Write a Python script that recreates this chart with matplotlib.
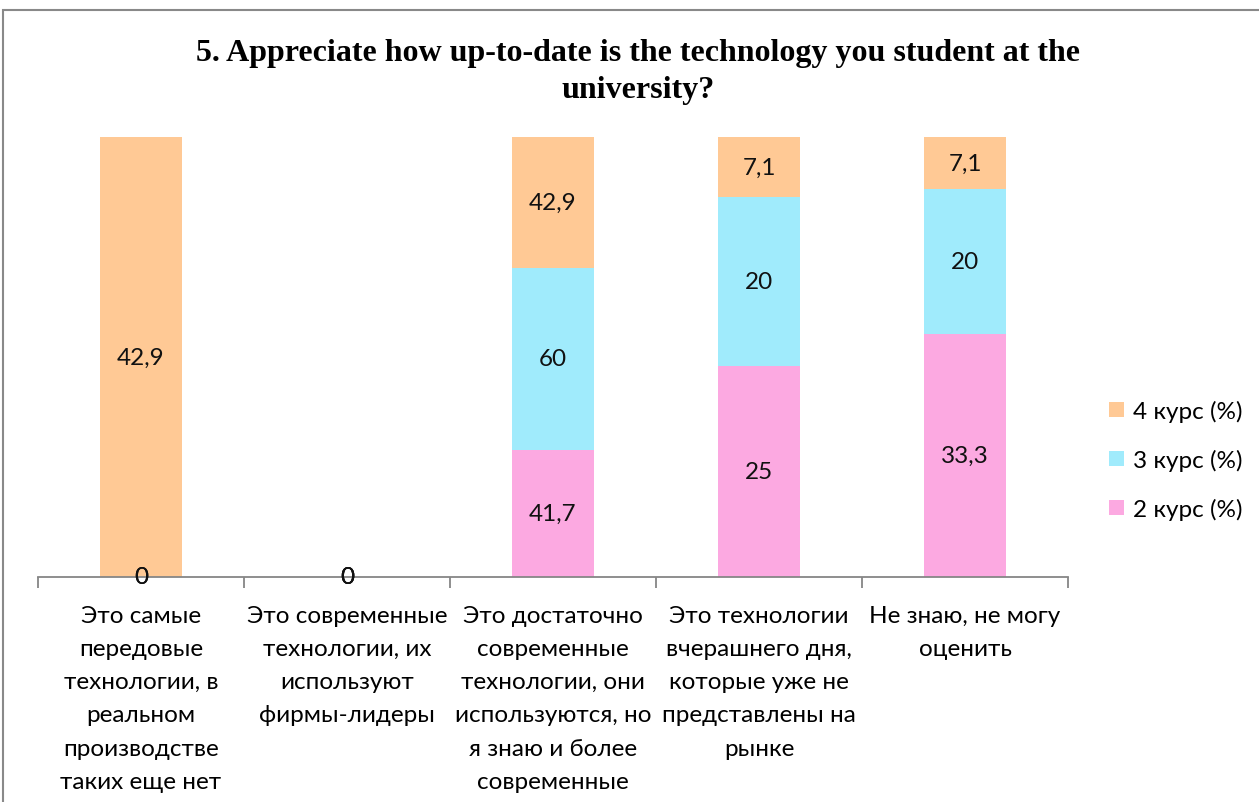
import numpy as np
import matplotlib.pyplot as plt
from matplotlib.patches import Rectangle

# data (100% stacked columns, labels show raw values)
categories = [
    "Это самые\nпередовые\nтехнологии, в\nреальном\nпроизводстве\nтаких еще нет",
    "Это современные\nтехнологии, их\nиспользуют\nфирмы-лидеры",
    "Это достаточно\nсовременные\nтехнологии, они\nиспользуются, но\nя знаю и более\nсовременные",
    "Это технологии\nвчерашнего дня,\nкоторые уже не\nпредставлены на\nрынке",
    "Не знаю, не могу\nоценить",
]
kurs2 = [0, 0, 41.7, 25, 33.3]
kurs3 = [0, 0, 60, 20, 20]
kurs4 = [42.9, 0, 42.9, 7.1, 7.1]

series = [("2 курс (%)", kurs2, "#FCA9E1"),
          ("3 курс (%)", kurs3, "#A0EBFC"),
          ("4 курс (%)", kurs4, "#FFC995")]

TEXT_FONT = "Lato"
FS = 17.5

def fmt(v):
    return f"{v:g}".replace(".", ",")

fig = plt.figure(figsize=(12.59, 8.03), dpi=100)
W, H = 1259, 803
ax = fig.add_axes([38 / W, 1 - 578 / H, 1030 / W, 440 / H])

x = np.arange(len(categories))
vals = np.array([s[1] for s in series], dtype=float)
totals = vals.sum(axis=0)
share = np.divide(vals, totals, out=np.zeros_like(vals), where=totals > 0) * 100

bottom = np.zeros(len(categories))
handles = []
for (name, raw, color), pct in zip(series, share):
    b = ax.bar(x, pct, 0.4, bottom=bottom, color=color, label=name)
    handles.append(b)
    for xi, r, p, b0 in zip(x, raw, pct, bottom):
        ax.text(xi, b0 + p / 2, fmt(r), ha="center", va="center",
                fontsize=FS, family=TEXT_FONT, color="#111111")
    bottom += pct

ax.set_xlim(-0.5, len(categories) - 0.5)
ax.set_ylim(0, 100)
for side in ["left", "right", "top"]:
    ax.spines[side].set_visible(False)
ax.spines["bottom"].set_color("#868686")
ax.spines["bottom"].set_linewidth(1.3)
ax.set_yticks([])

ax.set_xticks(x)
ax.set_xticklabels(categories, fontsize=FS, family=TEXT_FONT, linespacing=1.72,
                   va="top")
ax.tick_params(axis="x", which="major", length=0, pad=20)
ax.set_xticks(np.arange(-0.5, len(categories), 1), minor=True)
ax.tick_params(axis="x", which="minor", length=8, color="#868686", width=1.3)

leg = fig.legend(handles[::-1], [s[0] for s in series][::-1],
                 loc="center left", bbox_to_anchor=(1109 / W, 1 - 461 / H),
                 frameon=False, prop={"family": TEXT_FONT, "size": FS},
                 handlelength=0.6, handleheight=0.6, handletextpad=0.4,
                 labelspacing=1.1, borderpad=0, borderaxespad=0)

fig.text(638 / W, 1 - 72 / H,
         "5. Appreciate how up-to-date is the technology you student at the\nuniversity?",
         ha="center", va="center", fontsize=23, fontweight="bold",
         family="Liberation Serif", linespacing=1.35)

fig.add_artist(Rectangle((3 / W, -0.05), 1.1, 1 - 11 / H + 0.05,
                         transform=fig.transFigure, fill=False,
                         edgecolor="#898989", linewidth=1.5))

fig.savefig("out.png", dpi=100)
